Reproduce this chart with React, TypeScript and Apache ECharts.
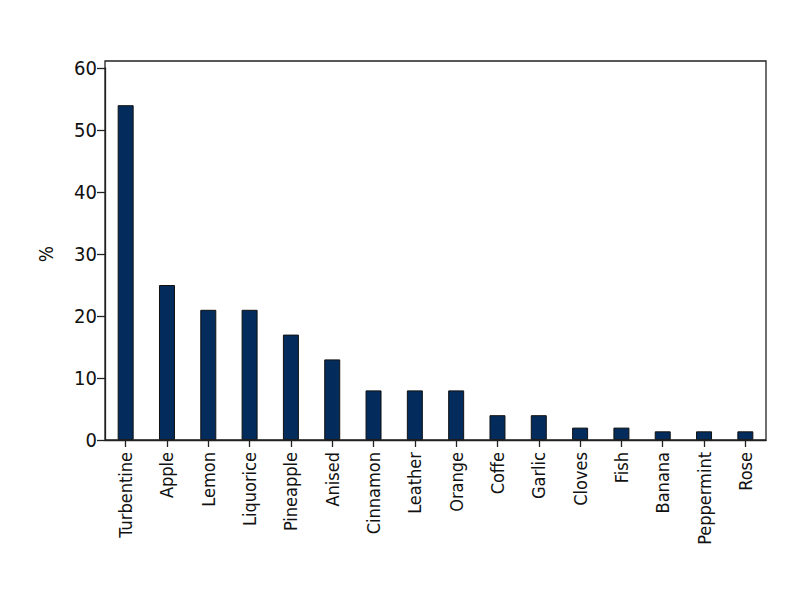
import React, { useEffect, useRef } from "react";
import * as echarts from "echarts";

const categories = ["Turbentine", "Apple", "Lemon", "Liquorice", "Pineapple", "Anised", "Cinnamon", "Leather", "Orange", "Coffe", "Garlic", "Cloves", "Fish", "Banana", "Peppermint", "Rose"];
const values = [54, 25, 21, 21, 17, 13, 8, 8, 8, 4, 4, 2, 2, 1.4, 1.4, 1.4];
const yTicks = [0, 10, 20, 30, 40, 50, 60];

const FONT = "'Liberation Sans Narrow', 'DejaVu Sans Condensed', sans-serif";

export default function App() {
  const ref = useRef<HTMLDivElement>(null);
  useEffect(() => {
    if (!ref.current) return;
    const chart = echarts.init(ref.current, null, { renderer: "svg" });
    chart.setOption({
      animation: false,
      backgroundColor: "#ffffff",
      grid: { left: 105, right: 34, top: 68, bottom: 160, containLabel: false },
      graphic: [
        {
          type: "rect",
          shape: { x: 105, y: 61, width: 661, height: 379 },
          style: { fill: "none", stroke: "#222", lineWidth: 1.3 },
          z: 10,
        },
      ],
      xAxis: {
        type: "category",
        data: categories,
        axisLine: { show: true, lineStyle: { color: "#222", width: 1.3 } },
        axisTick: { show: true, alignWithLabel: true, length: 7, lineStyle: { color: "#222", width: 1.3 } },
        axisLabel: {
          rotate: 90,
          interval: 0,
          margin: 12,
          color: "#111",
          fontFamily: FONT,
          fontSize: 18,
        },
      },
      yAxis: {
        type: "value",
        min: yTicks[0],
        max: yTicks[yTicks.length - 1],
        interval: 10,
        name: "%",
        nameLocation: "middle",
        nameGap: 50,
        nameTextStyle: { color: "#111", fontFamily: FONT, fontSize: 19 },
        axisLine: { show: true, lineStyle: { color: "#222", width: 1.3 } },
        axisTick: { show: true, length: 8, lineStyle: { color: "#222", width: 1.3 } },
        axisLabel: { color: "#111", fontFamily: FONT, fontSize: 20, margin: 8 },
        splitLine: { show: false },
      },
      series: [
        {
          type: "bar",
          data: values,
          barWidth: 16,
          itemStyle: { color: "#032c5c", borderColor: "#111", borderWidth: 1 },
        },
      ],
    });
    return () => chart.dispose();
  }, []);
  return <div ref={ref} style={{ width: 800, height: 600, position: "absolute", left: 0, top: 0 }} />;
}
